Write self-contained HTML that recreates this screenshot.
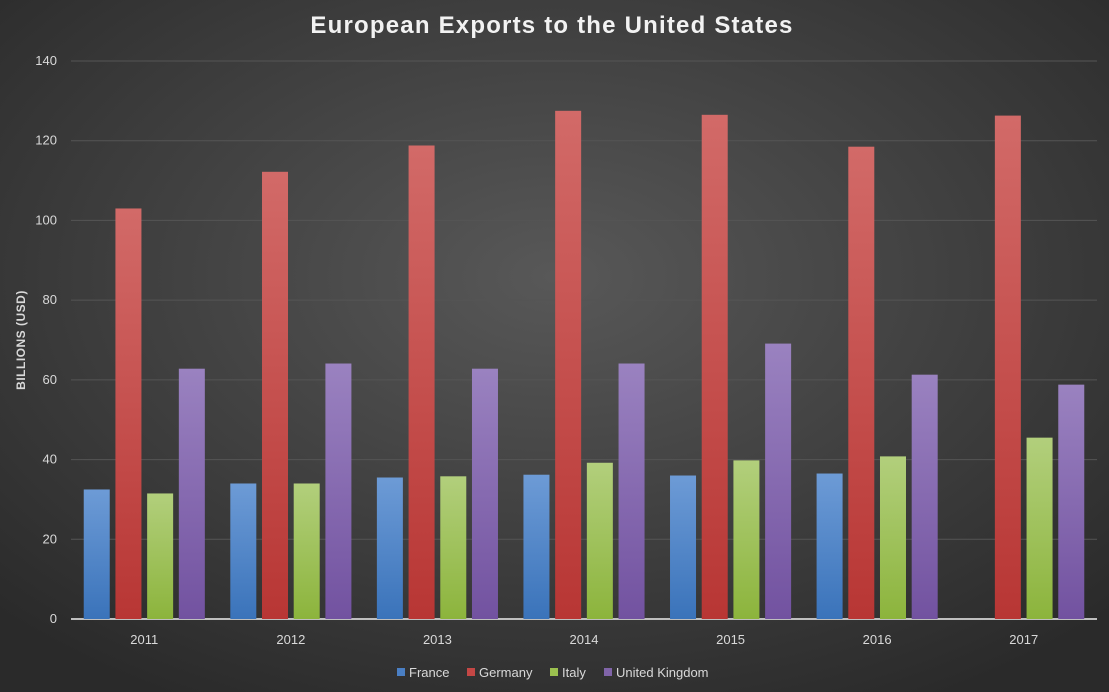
<!DOCTYPE html>
<html><head><meta charset="utf-8"><style>
html,body{margin:0;padding:0;width:1109px;height:692px;overflow:hidden;background:#333;}
svg text{font-family:"Liberation Sans",sans-serif;}
</style></head><body>
<svg id="chart" width="1109" height="692" xmlns="http://www.w3.org/2000/svg">
<defs>
<radialGradient id="bg" cx="50%" cy="40%" r="70%">
<stop offset="0" stop-color="#585858"/><stop offset="1" stop-color="#2a2a2a"/></radialGradient>
<linearGradient id="gF" x1="0" y1="0" x2="0" y2="1"><stop offset="0" stop-color="#6d9bd6"/><stop offset="1" stop-color="#3a73ba"/></linearGradient>
<linearGradient id="gG" x1="0" y1="0" x2="0" y2="1"><stop offset="0" stop-color="#d26a68"/><stop offset="1" stop-color="#b83634"/></linearGradient>
<linearGradient id="gI" x1="0" y1="0" x2="0" y2="1"><stop offset="0" stop-color="#b2cf7c"/><stop offset="1" stop-color="#8cb43c"/></linearGradient>
<linearGradient id="gU" x1="0" y1="0" x2="0" y2="1"><stop offset="0" stop-color="#9a82c0"/><stop offset="1" stop-color="#7252a0"/></linearGradient>
</defs>
<rect width="1109" height="692" fill="url(#bg)"/>
<text x="552" y="33" text-anchor="middle" font-size="24" font-weight="bold" fill="#f2f2f2" letter-spacing="1.2">European Exports to the United States</text>
<text transform="translate(25,340) rotate(-90)" text-anchor="middle" font-size="12" font-weight="bold" fill="#d9d9d9" letter-spacing="0.5">BILLIONS (USD)</text>
<g id="grid"></g><g id="bars"></g><g id="xlabels"></g>
<g font-size="13" fill="#d9d9d9">
<rect x="397" y="668" width="8" height="8" fill="#4a7fc4"/><text x="409" y="677">France</text>
<rect x="467" y="668" width="8" height="8" fill="#c44745"/><text x="479" y="677">Germany</text>
<rect x="550" y="668" width="8" height="8" fill="#9bc04f"/><text x="562" y="677">Italy</text>
<rect x="604" y="668" width="8" height="8" fill="#8064a8"/><text x="616" y="677">United Kingdom</text>
</g>
</svg>
<script>
const years=["2011","2012","2013","2014","2015","2016","2017"];
const france=[32.5,34,35.5,36.2,36,36.5,0];
const germany=[103,112.2,118.8,127.5,126.5,118.5,126.3];
const italy=[31.5,34,35.8,39.2,39.8,40.8,45.5];
const uk=[62.8,64.1,62.8,64.1,69.1,61.3,58.8];
const yTicks=[0,20,40,60,80,100,120,140];
const NS="http://www.w3.org/2000/svg";
const x0=71,x1=1097,y0=619,yTop=61,yMax=140;
const y=v=>y0-(v/yMax)*(y0-yTop);
const gw=(x1-x0)/years.length;
const grid=document.getElementById('grid');
yTicks.forEach(t=>{
 const l=document.createElementNS(NS,'line');
 
 
 l.setAttribute('x1',x0);l.setAttribute('x2',x1);l.setAttribute('y1',y(t));l.setAttribute('y2',y(t));
 l.setAttribute('stroke',t===0?'#bfbfbf':'#555555');l.setAttribute('stroke-width',t===0?2:1);
 grid.appendChild(l);
 const tx=document.createElementNS(NS,'text');
 
 
 tx.setAttribute('x',57);tx.setAttribute('y',y(t)+4);tx.setAttribute('text-anchor','end');
 tx.setAttribute('font-size','13');tx.setAttribute('fill','#d9d9d9');tx.textContent=t;
 grid.appendChild(tx);
});
const series=[[france,'url(#gF)','france'],[germany,'url(#gG)','germany'],[italy,'url(#gI)','italy'],[uk,'url(#gU)','uk']];
const bars=document.getElementById('bars'),xl=document.getElementById('xlabels');
const bw=26,step=31.7;
years.forEach((yr,i)=>{
 const cx=x0+gw*(i+0.5);
 series.forEach((s,j)=>{
  const v=s[0][i]; if(!v) return;
  const r=document.createElementNS(NS,'rect');
  
  
  r.setAttribute('x',cx-2*step+j*step+(step-bw)/2);r.setAttribute('width',bw);
  r.setAttribute('y',y(v));r.setAttribute('height',y0-y(v));r.setAttribute('fill',s[1]);
  bars.appendChild(r);
 });
 const t=document.createElementNS(NS,'text');
 
 
 t.setAttribute('x',cx);t.setAttribute('y',644);t.setAttribute('text-anchor','middle');
 t.setAttribute('font-size','13');t.setAttribute('fill','#d9d9d9');t.textContent=yr;
 xl.appendChild(t);
});
</script>
</body></html>
